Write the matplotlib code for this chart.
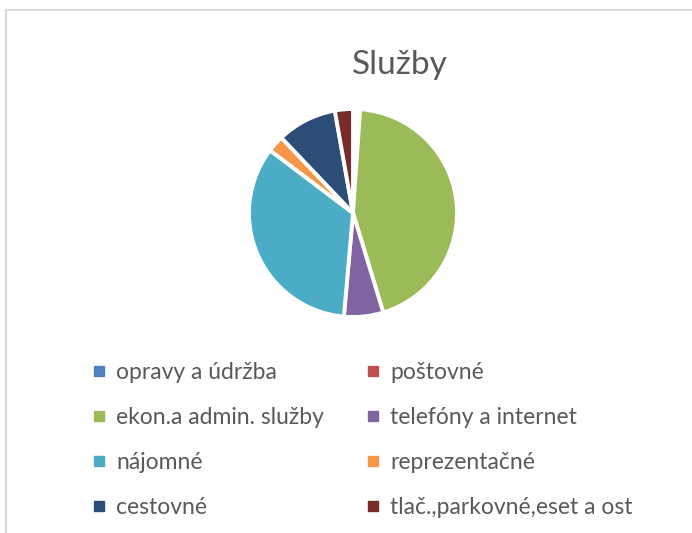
import matplotlib
matplotlib.use("Agg")
import matplotlib.pyplot as plt
from matplotlib.patches import Rectangle
from matplotlib.lines import Line2D

plt.rcParams['font.family'] = ['Lato', 'DejaVu Sans']

# Služby - podiel nákladov (%)
labels = ['opravy a údržba', 'poštovné', 'ekon.a admin. služby', 'telefóny a internet',
          'nájomné', 'reprezentačné', 'cestovné', 'tlač.,parkovné,eset a ost']
values = [0.5, 0.6, 44.2, 6.1, 33.9, 2.6, 9.3, 2.8]
colors = ['#4F81BD', '#C0504D', '#9BBB59', '#8064A2',
          '#4BACC6', '#F79646', '#2C4D75', '#772C2A']

W, H = 692, 533
fig = plt.figure(figsize=(W / 100, H / 100), dpi=100)

# ramcek grafu
fig.add_artist(Rectangle((6 / W, -0.5), 1.5, 1 - 10 / H + 0.5, transform=fig.transFigure,
                         fill=False, ec='#D9D9D9', lw=1.5))

# kolac
cx, cy, r = 353, H - 213, 104
ax = fig.add_axes([(cx - r) / W, (cy - r) / H, 2 * r / W, 2 * r / H])
ax.pie(values, colors=colors, startangle=90, counterclock=False,
       wedgeprops=dict(edgecolor='white', linewidth=2.8))
ax.set_xlim(-1, 1)
ax.set_ylim(-1, 1)
ax.set_aspect('equal')

fig.text(400 / W, 1 - 65 / H, 'Služby', ha='center', va='center', fontsize=24, color='#595959')

# legenda po riadkoch
handles = [Line2D([], [], marker='s', linestyle='none', markersize=6.5, color=c) for c in colors]
order = [0, 2, 4, 6, 1, 3, 5, 7]
leg = fig.legend([handles[i] for i in order], [labels[i] for i in order], ncol=2,
                 loc='upper left', bbox_to_anchor=(92 / W, 1 - 362 / H),
                 frameon=False, fontsize=16.5, labelcolor='#595959',
                 handlelength=0.6, handletextpad=0.45, labelspacing=1.05,
                 columnspacing=1.85, borderpad=0, borderaxespad=0)

fig.savefig('out.png', dpi=100)
